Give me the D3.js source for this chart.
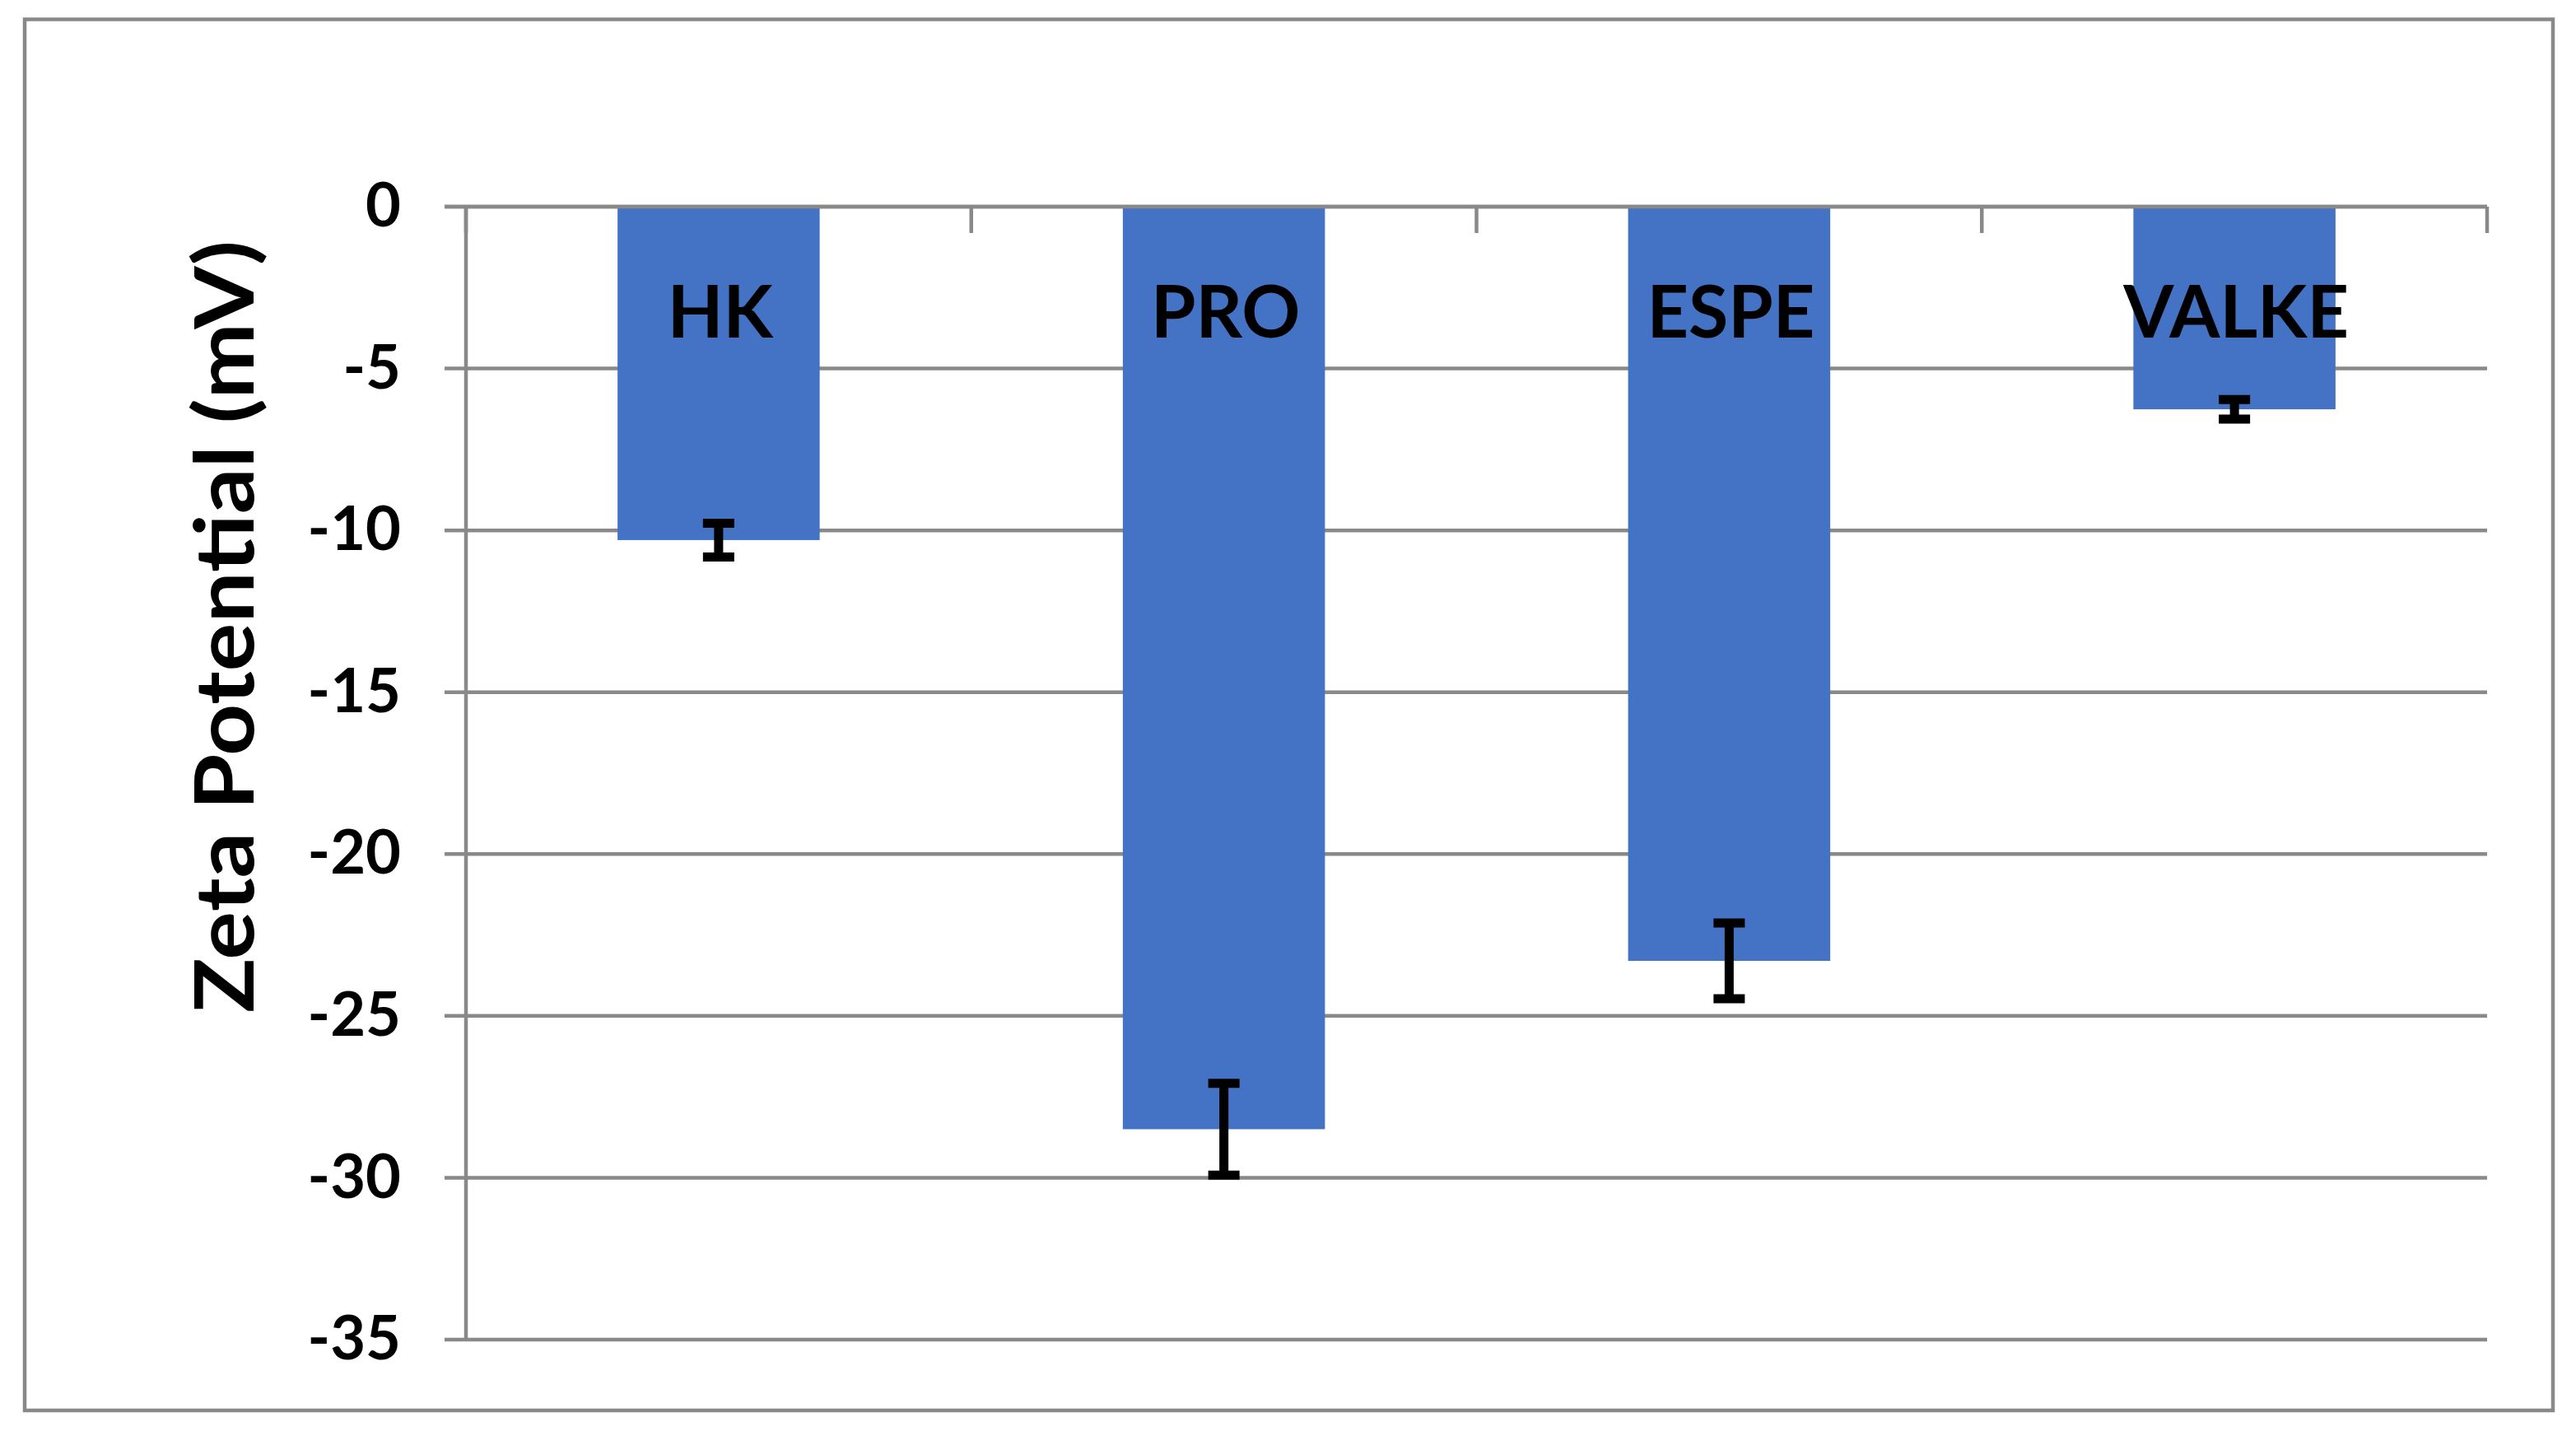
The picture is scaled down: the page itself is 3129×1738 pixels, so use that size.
<!DOCTYPE html>
<html>
<head>
<meta charset="utf-8">
<script src="https://cdn.jsdelivr.net/npm/d3@7"></script>
<style>
  html, body { margin: 0; padding: 0; background: #ffffff; }
  svg { display: block; }
  text { font-family: Lato, "Open Sans", sans-serif; font-weight: bold; fill: #000; }
</style>
</head>
<body>
<svg id="chart" width="3129" height="1738"></svg>
<script>
const categories = ["HK", "PRO", "ESPE", "VALKE"];
const values = [-10.3, -28.5, -23.3, -6.26];
const errors = [0.52, 1.42, 1.17, 0.3];
const yTicks = [0, -5, -10, -15, -20, -25, -30, -35];
const yTitle = "Zeta Potential (mV)";

const W = 3129, H = 1738;
const plot = { left: 566, right: 3021, top: 251, bottom: 1627 };
const gridColor = "#898989";
const barColor = "#4472C4";

const svg = d3.select("#chart");
svg.append("rect").attr("x", 0).attr("y", 0).attr("width", W).attr("height", H).attr("fill", "#fff");

// outer chart border
svg.append("rect")
  .attr("x", 30).attr("y", 23.5)
  .attr("width", 3101 - 30).attr("height", 1713 - 23.5)
  .attr("fill", "none").attr("stroke", gridColor).attr("stroke-width", 4.5);

const x = d3.scaleBand().domain(categories).range([plot.left, plot.right])
  .paddingInner(0.6).paddingOuter(0.3);
const y = d3.scaleLinear().domain([0, -35]).range([plot.top, plot.bottom]);

// gridlines (incl. outward tick portion)
svg.append("g").selectAll("line").data(yTicks).join("line")
  .attr("x1", plot.left - 26).attr("x2", plot.right)
  .attr("y1", d => y(d)).attr("y2", d => y(d))
  .attr("stroke", gridColor).attr("stroke-width", 4.5);

// bars
svg.append("g").selectAll("rect").data(categories).join("rect")
  .attr("x", d => x(d))
  .attr("width", x.bandwidth())
  .attr("y", (d, i) => y(Math.max(0, values[i])))
  .attr("height", (d, i) => Math.abs(y(values[i]) - y(0)))
  .attr("fill", barColor);

// zero (category) axis line and its ticks
svg.append("line")
  .attr("x1", plot.left - 26).attr("x2", plot.right)
  .attr("y1", y(0)).attr("y2", y(0))
  .attr("stroke", gridColor).attr("stroke-width", 4.5);
const step = x.step();
const boundaries = d3.range(categories.length + 1).map(i => plot.left + i * step);
svg.append("g").selectAll("line").data(boundaries).join("line")
  .attr("x1", d => d).attr("x2", d => d)
  .attr("y1", y(0)).attr("y2", y(0) + 32)
  .attr("stroke", gridColor).attr("stroke-width", 4.5);

// value axis line
svg.append("line")
  .attr("x1", plot.left).attr("x2", plot.left)
  .attr("y1", y(0)).attr("y2", y(-35))
  .attr("stroke", gridColor).attr("stroke-width", 4.5);

// y tick labels via d3 axis (hyphen-minus as in the original)
const yAxis = d3.axisLeft(y).tickValues(yTicks).tickSize(0).tickPadding(53)
  .tickFormat(d => String(d));
const ag = svg.append("g").attr("transform", `translate(${plot.left - 26},0)`).call(yAxis);
ag.select(".domain").remove();
ag.selectAll("text")
  .attr("font-family", "Lato, 'Open Sans', sans-serif")
  .attr("font-weight", "bold")
  .attr("font-size", 74)
  .attr("fill", "#000");

// error bars
const eg = svg.append("g");
categories.forEach((c, i) => {
  const cx = x(c) + x.bandwidth() / 2;
  const lo = y(values[i] - errors[i]);
  const hi = y(values[i] + errors[i]);
  eg.append("line").attr("x1", cx).attr("x2", cx).attr("y1", hi).attr("y2", lo)
    .attr("stroke", "#000").attr("stroke-width", 11);
  [hi, lo].forEach(yy => {
    eg.append("line").attr("x1", cx - 19).attr("x2", cx + 19).attr("y1", yy).attr("y2", yy)
      .attr("stroke", "#000").attr("stroke-width", 11);
  });
});

// category labels
svg.append("g").selectAll("text").data(categories).join("text")
  .attr("x", d => x(d) + x.bandwidth() / 2 + 2)
  .attr("y", 410)
  .attr("text-anchor", "middle")
  .attr("font-size", 88)
  .text(d => d);

// y title
svg.append("text")
  .attr("transform", `translate(308,761) rotate(-90)`)
  .attr("text-anchor", "middle")
  .attr("font-size", 99)
  .attr("textLength", 938)
  .attr("lengthAdjust", "spacingAndGlyphs")
  .text(yTitle);
</script>
</body>
</html>
